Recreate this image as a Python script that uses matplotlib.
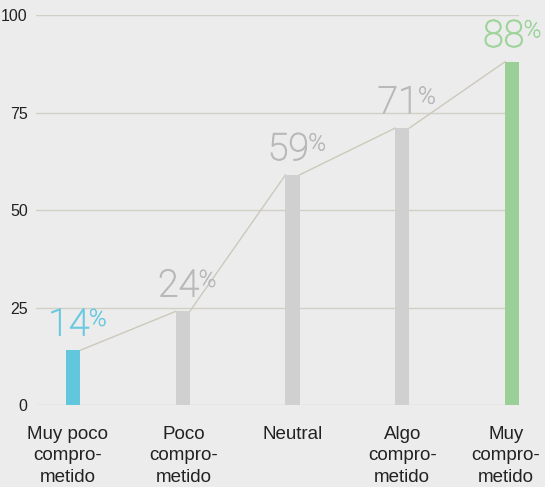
import matplotlib.pyplot as plt
import matplotlib.patheffects as pe

categories = ["Muy poco\ncompro-\nmetido", "Poco\ncompro-\nmetido", "Neutral",
              "Algo\ncompro-\nmetido", "Muy\ncompro-\nmetido"]
values = [14, 24, 59, 71, 88]
bar_colors = ["#62c6dd", "#d0d0d0", "#d0d0d0", "#d0d0d0", "#9bcf98"]
label_colors = ["#6ccae0", "#b9b9b9", "#b9b9b9", "#b9b9b9", "#9fd49c"]
yticks = [0, 25, 50, 75, 100]
label_shift = [-5, 1, 0, 0, -6]  # px nudges of the category labels
value_shift = [-3, -3, -3, -3, -6]  # pt nudges of the value labels

bg = "#ececec"
grid_c = "#d2d0c5"
bar_w = 0.128

fig = plt.figure(figsize=(5.45, 4.87), dpi=100, facecolor=bg)
ax = fig.add_axes([36 / 545, 82 / 487, 483 / 545, 390 / 487])
ax.set_facecolor(bg)

x = list(range(len(values)))
ax.bar(x, values, width=bar_w, color=bar_colors, zorder=3)

# connecting line between bar tops (edge to edge)
for i in range(len(values) - 1):
    ax.plot([x[i] + bar_w / 2, x[i + 1] - bar_w / 2], [values[i], values[i + 1]],
            color="#ccc9bc", lw=1, zorder=2)

for xi, v, c, dx in zip(x, values, label_colors, value_shift):
    fx = [pe.withStroke(linewidth=0.75, foreground=c)]
    t = ax.annotate(str(v), xy=(xi, v), xytext=(dx, 5), textcoords="offset points",
                    ha="center", va="bottom", fontsize=27, color=c,
                    family="Roboto", fontweight="light", zorder=4, path_effects=fx)
    ax.annotate("%", xy=(0.99, 0.95), xycoords=t, ha="left", va="top",
                fontsize=17, color=c, family="Roboto", fontweight="light",
                path_effects=[pe.withStroke(linewidth=0.5, foreground=c)])

ax.set_xlim(-0.337, 4.064)
ax.set_ylim(0, 100)
ax.set_yticks(yticks)
ax.set_xticks(x)
ax.set_xticklabels([])
for xi, cat, dx in zip(x, categories, label_shift):
    ax.annotate(cat, xy=(xi, 0), xycoords=("data", "axes fraction"),
                xytext=(dx * 0.72, -15), textcoords="offset points",
                ha="center", va="top", fontsize=13.5, family="Liberation Sans",
                color="#222222", linespacing=1.35, annotation_clip=False)
ax.tick_params(axis="y", length=0, pad=6, labelsize=11.5, labelcolor="#222222")
ax.tick_params(axis="x", length=0)
for lab in ax.get_yticklabels():
    lab.set_family("Liberation Sans")
ax.grid(axis="y", color=grid_c, lw=1, zorder=0)
for s in ax.spines.values():
    s.set_visible(False)

fig.savefig("out.png", dpi=100, facecolor=bg)
